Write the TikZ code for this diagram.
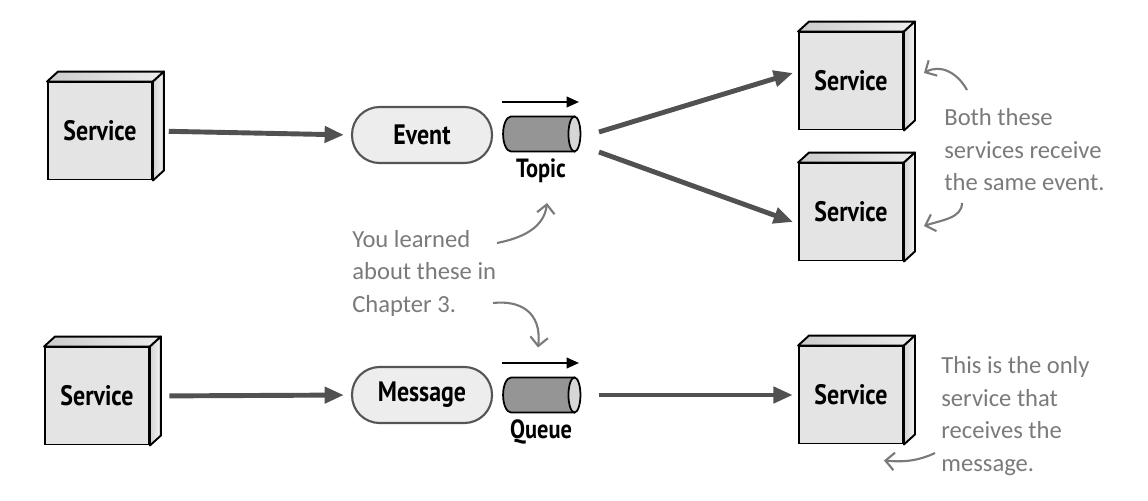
\documentclass[tikz,border=0pt]{standalone}
\usepackage{fontspec}
\usetikzlibrary{positioning,arrows.meta}
\newfontfamily\markfont[FakeStretch=0.85]{PT Sans}
\newfontfamily\handfont{Carlito}
\definecolor{facegray}{HTML}{E4E4E4}
\definecolor{pillgray}{HTML}{EDEDED}
\definecolor{rimgray}{HTML}{555555}
\definecolor{pipegray}{HTML}{959595}
\definecolor{capgray}{HTML}{D6D6D6}
\definecolor{flowgray}{HTML}{515151}
\definecolor{notegray}{HTML}{7A7A7A}
\tikzset{
  service/.style={draw, line width=1.1pt, fill=facegray, minimum width=2.08cm,
    minimum height=1.94cm, font=\markfont\bfseries\fontsize{16}{18}\selectfont},
  pill/.style={draw=rimgray, line width=1.2pt, fill=pillgray, rounded corners=0.55cm,
    minimum width=2.8cm, minimum height=1.12cm,
    font=\markfont\bfseries\fontsize{16}{18}\selectfont},
  pipe/.style={minimum width=1.76cm, minimum height=0.7cm, inner sep=0pt, outer sep=0pt},
  tag/.style={font=\markfont\bfseries\fontsize{15}{17}\selectfont, inner sep=1pt},
  note/.style={text=notegray, align=left, inner sep=0pt,
    font=\handfont\fontsize{14}{18.5}\selectfont},
  flow/.style={draw=flowgray, line width=2.8pt, -{Triangle[length=11pt,width=9pt]}},
  dir/.style={line width=1.1pt, -{Triangle[length=7pt,width=6pt]}},
  hint/.style={draw=notegray, line width=1.2pt, -{Straight Barb[length=5pt,width=10pt]}},
  lid/.style={left color=gray!40, right color=gray!15},
  flank/.style={left color=gray!35, right color=gray!8}
}
\begin{document}
\begin{tikzpicture}[x=0.02cm,y=-0.02cm]
\def\deep{11}
\def\rise{-10}
\useasboundingbox (0,0) rectangle (1148,500);

\node[service] (s1) at (100,131) {Service};
\node[service] (s2) at (97,396) {Service};
\node[service] (t1) at (851,81) {Service};
\node[service] (t2) at (851,212) {Service};
\node[service] (q1) at (851,395) {Service};

\foreach \n in {s1,s2,t1,t2,q1} {
  \filldraw[lid, line width=1.1pt, line join=round] (\n.north west) -- ++(\deep,\rise)
    -- ([shift={(\deep,\rise)}]\n.north east) -- (\n.north east) -- cycle;
  \filldraw[flank, line width=1.1pt, line join=round] (\n.north east)
    -- ([shift={(\deep,\rise)}]\n.north east) -- ([shift={(\deep,\rise)}]\n.south east)
    -- (\n.south east) -- cycle;
}

\node[pill] (ev) at (422,135) {Event};
\node[pill] (msg) at (422,395) {Message};
\node[pipe] (tp) at (541,134) {};
\node[pipe] (qu) at (541,395) {};
\node[tag, below=3pt of tp] (tpl) {Topic};
\node[tag, below=3pt of qu] (qul) {Queue};

\foreach \n in {tp,qu} {
  \filldraw[fill=pipegray, line width=1pt] ([xshift=-6]\n.north east)
    -- ([xshift=8]\n.north west) arc[start angle=90, end angle=270, x radius=0.16cm, y radius=0.35cm]
    -- ([xshift=-6]\n.south east) -- cycle;
  \filldraw[fill=capgray, line width=1pt] ([xshift=-6]\n.east) ellipse[x radius=0.12cm, y radius=0.35cm];
  \draw[dir] ([shift={(-39,-32)}]\n.center) -- ([shift={(38,-32)}]\n.center);
}

\draw[flow, shorten <=9pt, shorten >=4pt] (s1.east) -- (ev.west);
\draw[flow, shorten <=11pt, shorten >=4pt] (s2.east) -- (msg.west);
\draw[flow] ([shift={(14,-2)}]tp.east) -- ([shift={(-5,-8)}]t1.west);
\draw[flow] ([shift={(14,18)}]tp.east) -- ([shift={(-5,10)}]t2.west);
\draw[flow, shorten <=8pt, shorten >=3pt] (qu.east) -- (q1.west);

\node[note, anchor=west] (both) at (944,150) {Both these\\services receive\\the same event.};
\node[note, anchor=west] (learn) at (352,273) {You learned\\about these in\\Chapter 3.};
\node[note, anchor=west] (only) at (941,416) {This is the only\\service that\\receives the\\message.};

\coordinate (b1) at (967,90);
\coordinate (b2) at (962,203);
\coordinate (l1) at (497,243);
\coordinate (l2) at (493,303);
\coordinate (o1) at (935,453);

\draw[hint] (b1) .. controls (957,72) and (940,64) .. ([shift={(20,-8)}]t1.east);
\draw[hint] (b2) .. controls (962,218) and (942,220) .. ([shift={(20,14)}]t2.east);
\draw[hint] (l1) .. controls (522,238) and (544,228) .. ([shift={(6,18)}]tpl.south);
\draw[hint] (l2) .. controls (520,300) and (542,312) .. ([shift={(-3,-30)}]qu.north);
\draw[hint] (o1) .. controls (916,462) and (900,462) .. ([shift={(-20,16)}]q1.south east);
\end{tikzpicture}
\end{document}
